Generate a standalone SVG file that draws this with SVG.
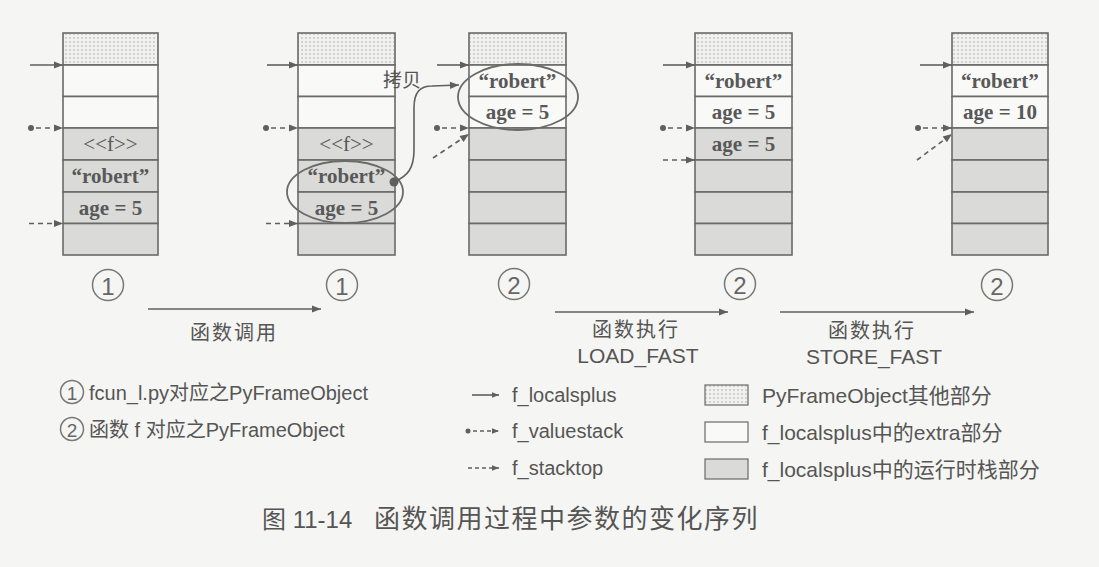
<svg xmlns="http://www.w3.org/2000/svg" width="1099" height="567" viewBox="0 0 1099 567">
<style>
.bg{fill:#f5f5f3}
.cell{stroke:#6a6a6a;stroke-width:1.6}
.w{fill:#f9f9f8}
.g{fill:#dadad8}
.d{fill:url(#dots)}
.st{font-family:"Liberation Serif","Noto Sans CJK SC",serif;font-size:21px;font-weight:bold;fill:#585858;text-anchor:middle;dominant-baseline:central}
.lbl{font-family:"Liberation Sans","Noto Sans CJK SC",sans-serif;font-size:20px;fill:#555;dominant-baseline:central}
.mid{text-anchor:middle}
.num{font-family:"Liberation Sans",sans-serif;font-size:24px;fill:#666;text-anchor:middle;dominant-baseline:central}
.ring{fill:none;stroke:#777;stroke-width:1.5}
.sol{stroke:#5f5f5f;stroke-width:1.6;fill:none}
.dash{stroke:#5f5f5f;stroke-width:1.6;fill:none;stroke-dasharray:5 4}
.ell{fill:none;stroke:#6a6a6a;stroke-width:1.8}
.dot{fill:#5f5f5f}
</style>
<defs>
<pattern id="dots" width="4" height="4" patternUnits="userSpaceOnUse">
<rect width="4" height="4" fill="#f1f1ef"/>
<circle cx="2" cy="2" r="0.7" fill="#9a9a9a"/>
</pattern>
<marker id="ah" viewBox="0 0 10 10" refX="10" refY="5" markerWidth="10" markerHeight="9" markerUnits="userSpaceOnUse" orient="auto">
<path d="M0,1 L10,5 L0,9 z" fill="#5f5f5f"/>
</marker>
<marker id="ahs" viewBox="0 0 10 10" refX="10" refY="5" markerWidth="8" markerHeight="7" markerUnits="userSpaceOnUse" orient="auto">
<path d="M0,1 L10,5 L0,9 z" fill="#5f5f5f"/>
</marker>
</defs>
<rect class="bg" x="0" y="0" width="1099" height="567"/>

<g id="stack1">
<rect class="cell d" x="63" y="33" width="95" height="32"/>
<rect class="cell w" x="63" y="65" width="95" height="31.5"/>
<rect class="cell w" x="63" y="96.5" width="95" height="31.5"/>
<rect class="cell g" x="63" y="128" width="95" height="32"/>
<rect class="cell g" x="63" y="160" width="95" height="32"/>
<rect class="cell g" x="63" y="192" width="95" height="31.5"/>
<rect class="cell g" x="63" y="223.5" width="95" height="31.5"/>
<text class="st" x="110.5" y="144" style="font-weight:normal">&lt;&lt;f&gt;&gt;</text>
<text class="st" x="110.5" y="176">“robert”</text>
<text class="st" x="110.5" y="208">age = 5</text>
</g>

<g id="stack2">
<rect class="cell d" x="298" y="33" width="97" height="32"/>
<rect class="cell w" x="298" y="65" width="97" height="31.5"/>
<rect class="cell w" x="298" y="96.5" width="97" height="31.5"/>
<rect class="cell g" x="298" y="128" width="97" height="32"/>
<rect class="cell g" x="298" y="160" width="97" height="32"/>
<rect class="cell g" x="298" y="192" width="97" height="31.5"/>
<rect class="cell g" x="298" y="223.5" width="97" height="31.5"/>
<text class="st" x="346.5" y="144" style="font-weight:normal">&lt;&lt;f&gt;&gt;</text>
<text class="st" x="346.5" y="176">“robert”</text>
<text class="st" x="346.5" y="208">age = 5</text>
<ellipse class="ell" cx="345" cy="192" rx="58" ry="31"/>
</g>

<g id="stack3">
<rect class="cell d" x="469" y="33" width="97" height="32"/>
<rect class="cell w" x="469" y="65" width="97" height="31.5"/>
<rect class="cell w" x="469" y="96.5" width="97" height="31.5"/>
<rect class="cell g" x="469" y="128" width="97" height="32"/>
<rect class="cell g" x="469" y="160" width="97" height="32"/>
<rect class="cell g" x="469" y="192" width="97" height="31.5"/>
<rect class="cell g" x="469" y="223.5" width="97" height="31.5"/>
<text class="st" x="517.5" y="81">“robert”</text>
<text class="st" x="517.5" y="112">age = 5</text>
<ellipse class="ell" cx="518" cy="97" rx="60" ry="33"/>
</g>

<g id="stack4">
<rect class="cell d" x="695" y="33" width="97" height="32"/>
<rect class="cell w" x="695" y="65" width="97" height="31.5"/>
<rect class="cell w" x="695" y="96.5" width="97" height="31.5"/>
<rect class="cell g" x="695" y="128" width="97" height="32"/>
<rect class="cell g" x="695" y="160" width="97" height="32"/>
<rect class="cell g" x="695" y="192" width="97" height="31.5"/>
<rect class="cell g" x="695" y="223.5" width="97" height="31.5"/>
<text class="st" x="743.5" y="81">“robert”</text>
<text class="st" x="743.5" y="112">age = 5</text>
<text class="st" x="743.5" y="144">age = 5</text>
</g>

<g id="stack5">
<rect class="cell d" x="952" y="33" width="96" height="32"/>
<rect class="cell w" x="952" y="65" width="96" height="31.5"/>
<rect class="cell w" x="952" y="96.5" width="96" height="31.5"/>
<rect class="cell g" x="952" y="128" width="96" height="32"/>
<rect class="cell g" x="952" y="160" width="96" height="32"/>
<rect class="cell g" x="952" y="192" width="96" height="31.5"/>
<rect class="cell g" x="952" y="223.5" width="96" height="31.5"/>
<text class="st" x="1000" y="81">“robert”</text>
<text class="st" x="1000" y="112">age = 10</text>
</g>

<g id="labels">
<circle class="ring" cx="108" cy="285" r="15.5"/><text class="num" x="108" y="286">1</text>
<circle class="ring" cx="342" cy="285" r="15.5"/><text class="num" x="342" y="286">1</text>
<circle class="ring" cx="514" cy="284" r="15.5"/><text class="num" x="514" y="285">2</text>
<circle class="ring" cx="740" cy="284" r="15.5"/><text class="num" x="740" y="285">2</text>
<circle class="ring" cx="997" cy="285" r="15.5"/><text class="num" x="997" y="286">2</text>
<text class="lbl mid" x="234" y="333" style="letter-spacing:2px">函数调用</text>
<text class="lbl mid" x="636" y="330" style="letter-spacing:2px">函数执行</text>
<text class="lbl mid" x="638" y="355" style="font-size:21px">LOAD_FAST</text>
<text class="lbl mid" x="872" y="331" style="letter-spacing:2px">函数执行</text>
<text class="lbl mid" x="874" y="356" style="font-size:21px">STORE_FAST</text>
<text class="lbl" x="383" y="80" style="font-size:19px">拷贝</text>
</g>

<g id="connectors">
<line class="sol" x1="30" y1="65" x2="63" y2="65" marker-end="url(#ah)"/>
<circle class="dot" cx="31" cy="128" r="3"/>
<line class="dash" x1="36" y1="128" x2="63" y2="128" marker-end="url(#ah)"/>
<line class="dash" x1="29" y1="223.5" x2="63" y2="223.5" marker-end="url(#ah)"/>

<line class="sol" x1="267" y1="65" x2="298" y2="65" marker-end="url(#ah)"/>
<circle class="dot" cx="266" cy="128" r="3"/>
<line class="dash" x1="271" y1="128" x2="298" y2="128" marker-end="url(#ah)"/>
<line class="dash" x1="266" y1="223.5" x2="298" y2="223.5" marker-end="url(#ah)"/>

<line class="sol" x1="437" y1="65" x2="469" y2="65" marker-end="url(#ah)"/>
<circle class="dot" cx="437" cy="128" r="3"/>
<line class="dash" x1="442" y1="128" x2="469" y2="128" marker-end="url(#ah)"/>
<line class="dash" x1="433" y1="158" x2="469" y2="134" marker-end="url(#ah)"/>

<line class="sol" x1="663" y1="65" x2="695" y2="65" marker-end="url(#ah)"/>
<circle class="dot" cx="663" cy="128" r="3"/>
<line class="dash" x1="668" y1="128" x2="695" y2="128" marker-end="url(#ah)"/>
<line class="dash" x1="663" y1="160" x2="695" y2="160" marker-end="url(#ah)"/>

<line class="sol" x1="920" y1="65" x2="952" y2="65" marker-end="url(#ah)"/>
<circle class="dot" cx="918" cy="128" r="3"/>
<line class="dash" x1="923" y1="128" x2="952" y2="128" marker-end="url(#ah)"/>
<line class="dash" x1="917" y1="160" x2="952" y2="134" marker-end="url(#ah)"/>

<circle class="dot" cx="394" cy="182" r="4.5"/>
<path class="sol" d="M394,182 C408,176 414,168 414,150 L414,108 C414,92 420,86 432,86 L459,85" marker-end="url(#ah)"/>

<line class="sol" x1="148" y1="309" x2="321" y2="309" marker-end="url(#ah)"/>
<line class="sol" x1="555" y1="312" x2="728" y2="312" marker-end="url(#ah)"/>
<line class="sol" x1="780" y1="312" x2="974" y2="312" marker-end="url(#ah)"/>
</g>

<g id="legend">
<circle class="ring" cx="72" cy="392" r="11.5"/><text class="num" x="72" y="393" style="font-size:19px">1</text>
<text class="lbl" x="89" y="393">fcun_l.py对应之PyFrameObject</text>
<circle class="ring" cx="72" cy="429" r="11.5"/><text class="num" x="72" y="430" style="font-size:19px">2</text>
<text class="lbl" x="89" y="430">函数 f 对应之PyFrameObject</text>

<line class="sol" x1="472" y1="395" x2="499" y2="395" marker-end="url(#ahs)"/>
<text class="lbl" x="512" y="395">f_localsplus</text>
<circle class="dot" cx="468" cy="431" r="2.5"/>
<line class="dash" x1="473" y1="431" x2="499" y2="431" style="stroke-dasharray:4 3" marker-end="url(#ahs)"/>
<text class="lbl" x="512" y="431">f_valuestack</text>
<line class="dash" x1="468" y1="468" x2="499" y2="468" style="stroke-dasharray:4 3" marker-end="url(#ahs)"/>
<text class="lbl" x="512" y="468">f_stacktop</text>

<rect class="cell d" x="705" y="385" width="43" height="20" style="stroke-width:1.2"/>
<text class="lbl" x="762" y="395" style="font-size:21px">PyFrameObject其他部分</text>
<rect class="cell w" x="705" y="422" width="43" height="20" style="stroke-width:1.2"/>
<text class="lbl" x="762" y="432" style="font-size:21px">f_localsplus中的extra部分</text>
<rect class="cell g" x="705" y="459" width="43" height="20" style="stroke-width:1.2"/>
<text class="lbl" x="762" y="469" style="font-size:21px">f_localsplus中的运行时栈部分</text>

<text class="lbl" x="262" y="519" style="font-size:24px">图 11-14<tspan x="374" style="font-size:26px;letter-spacing:1.5px">函数调用过程中参数的变化序列</tspan></text>
</g>
</svg>
